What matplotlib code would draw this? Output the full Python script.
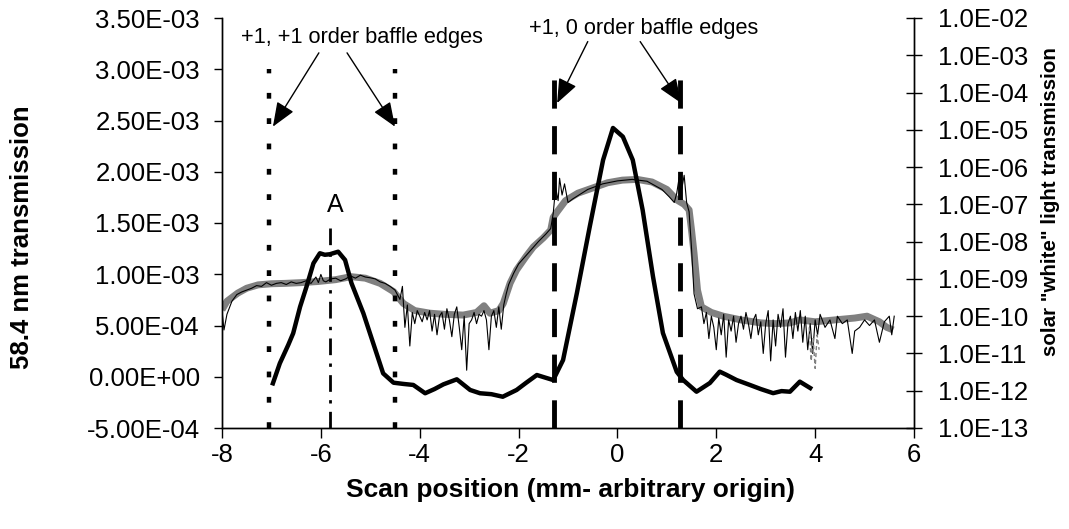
import matplotlib
matplotlib.use("Agg")
from matplotlib import pyplot as plt
from matplotlib.ticker import FixedLocator, FuncFormatter, NullLocator
import numpy as np

plt.rcParams['font.family'] = ['Liberation Sans', 'DejaVu Sans']
plt.rcParams['axes.unicode_minus'] = False

# 58.4 nm transmission (left axis), scan position in mm
euv_x = [-6.97, -6.83, -6.66, -6.56, -6.42, -6.29, -6.15, -6.02, -5.92, -5.82,
         -5.65, -5.51, -5.38, -5.14, -4.94, -4.74, -4.53, -4.33, -4.13, -3.89,
         -3.70, -3.52, -3.25, -2.98, -2.78, -2.55, -2.32, -2.04, -1.85, -1.63,
         -1.45, -1.30, -1.10, -0.82, -0.56, -0.29, -0.09, 0.11, 0.31, 0.51,
         0.72, 0.92, 1.20, 1.33, 1.60, 1.87, 2.07, 2.20, 2.41, 2.68,
         2.90, 3.15, 3.32, 3.49, 3.69, 3.90]
euv_t = [-0.064, 0.131, 0.310, 0.424, 0.683, 0.879, 1.107, 1.205, 1.190, 1.195,
         1.220, 1.139, 0.912, 0.619, 0.326, 0.033, -0.058, -0.070, -0.080, -0.161,
         -0.120, -0.074, -0.025, -0.129, -0.161, -0.170, -0.195, -0.129, -0.060, 0.017,
         -0.010, -0.032, 0.163, 0.817, 1.464, 2.115, 2.427, 2.342, 2.115, 1.627,
         0.976, 0.427, 0.048, -0.032, -0.146, -0.061, 0.050, 0.020, -0.032, -0.080,
         -0.120, -0.160, -0.140, -0.146, -0.048, -0.110]
euv_t = [v * 1e-3 for v in euv_t]

# solar white light, smoothed (grey, right axis), log10 values
wl_x = [-8.0, -7.9, -7.68, -7.5, -7.27, -7.0, -6.73, -6.4, -6.06, -5.7,
        -5.39, -5.1, -4.8, -4.53, -4.33, -4.1, -3.79, -3.5, -3.12, -2.85,
        -2.7, -2.58, -2.4, -2.31, -2.17, -2.04, -1.85, -1.7, -1.5, -1.35,
        -1.3, -1.22, -1.05, -0.8, -0.5, -0.2, 0.1, 0.4, 0.7, 1.0,
        1.2, 1.35, 1.45, 1.5, 1.55, 1.62, 1.7, 1.9, 2.14, 2.5,
        2.9, 3.2, 3.49, 3.69, 4.0, 4.4, 4.8, 5.05, 5.3, 5.45, 5.58]
wl_log = [-9.83, -9.6, -9.38, -9.25, -9.16, -9.13, -9.12, -9.1, -9.07, -9.02,
          -8.94, -8.98, -9.12, -9.34, -9.66, -9.85, -9.92, -9.95, -9.97, -9.9,
          -9.72, -9.92, -9.85, -9.66, -9.11, -8.76, -8.4, -8.14, -7.9, -7.69,
          -7.35, -7.2, -6.9, -6.7, -6.56, -6.42, -6.35, -6.33, -6.4, -6.6,
          -6.88, -7.0, -7.15, -7.7, -8.31, -9.3, -9.75, -9.9, -10.0, -10.1,
          -10.18, -10.2, -10.18, -10.1, -10.15, -10.1, -10.05, -10.0, -10.15, -10.3, -10.37]

# solar white light, raw scan (thin black, right axis), log10 values
raw_x = [-8.0, -7.96, -7.9, -7.8, -7.7, -7.6, -7.5, -7.4, -7.3, -7.2,
         -7.1, -7.0, -6.9, -6.8, -6.7, -6.6, -6.5, -6.4, -6.3, -6.2,
         -6.1, -6.05, -6.0, -5.95, -5.9, -5.8, -5.7, -5.6, -5.5, -5.4,
         -5.3, -5.2, -5.1, -5.0, -4.9, -4.8, -4.7, -4.6, -4.5, -4.4,
         -4.35, -4.3, -4.25, -4.2, -4.15, -4.1, -4.05, -4.0, -3.95, -3.9,
         -3.85, -3.8, -3.75, -3.7, -3.65, -3.6, -3.55, -3.5, -3.45, -3.4,
         -3.35, -3.3, -3.25, -3.2, -3.15, -3.1, -3.05, -3.0, -2.95, -2.9,
         -2.85, -2.8, -2.75, -2.7, -2.65, -2.6, -2.55, -2.5, -2.45, -2.4,
         -2.35, -2.3, -2.25, -2.2, -2.1, -2.0, -1.8, -1.6, -1.45, -1.35,
         -1.3, -1.25, -1.2, -1.17, -1.12, -1.07, -1.0, -0.9, -0.6, -0.3,
         0.0, 0.3, 0.6, 0.9, 1.05, 1.15, 1.2, 1.25, 1.3, 1.35,
         1.4, 1.45, 1.5, 1.55, 1.62, 1.7, 1.75, 1.8, 1.85, 1.9,
         1.95, 2.0, 2.05, 2.1, 2.15, 2.2, 2.25, 2.3, 2.35, 2.4,
         2.45, 2.5, 2.55, 2.6, 2.65, 2.7, 2.75, 2.8, 2.85, 2.9,
         2.95, 3.0, 3.05, 3.1, 3.15, 3.2, 3.25, 3.3, 3.35, 3.4,
         3.45, 3.5, 3.55, 3.6, 3.65, 3.7, 3.75, 3.8, 3.85, 3.9,
         3.95, 4.0, 4.05, 4.1, 4.2, 4.3, 4.4, 4.45, 4.55, 4.65,
         4.75, 4.8, 4.9, 5.0, 5.1, 5.2, 5.3, 5.4, 5.5, 5.55, 5.6]
raw_log = [-9.85, -10.37, -9.95, -9.6, -9.42, -9.35, -9.3, -9.25, -9.18, -9.2,
           -9.1, -9.17, -9.12, -9.1, -9.15, -9.08, -9.12, -9.1, -9.05, -9.12,
           -8.95, -9.1, -8.88, -9.05, -9.08, -9.0, -8.98, -9.05, -9.0, -8.92,
           -8.98, -8.9, -8.95, -8.97, -9.0, -9.08, -9.12, -9.2, -9.3, -9.55,
           -9.2, -10.3, -9.7, -10.8, -9.9, -10.2, -9.85, -10.0, -10.15, -9.9,
           -10.1, -9.85, -10.4, -9.95, -10.5, -10.0, -9.9, -10.35, -9.8, -10.1,
           -10.55, -9.95, -9.75, -10.3, -10.9, -10.0, -11.45, -10.2, -10.1, -9.9,
           -10.2, -9.95, -10.0, -9.85, -10.1, -10.9, -10.0, -9.85, -10.3, -9.75,
           -10.35, -9.7, -9.4, -9.15, -8.85, -8.6, -8.3, -8.0, -7.8, -7.65,
           -7.25, -6.55, -6.9, -6.3, -6.75, -6.45, -6.95, -6.85, -6.6, -6.45,
           -6.37, -6.33, -6.38, -6.6, -6.8, -6.95, -6.7, -6.27, -6.6, -6.22,
           -6.95, -7.2, -8.2, -9.4, -9.8, -9.75, -10.2, -9.9, -10.6, -10.0,
           -10.3, -10.9, -10.05, -10.5, -9.95, -11.1, -10.1, -10.4, -10.0, -10.7,
           -10.2, -10.0, -10.35, -9.9, -10.2, -10.6, -10.1, -9.95, -10.5, -10.15,
           -11.0, -10.2, -9.85, -11.2, -10.1, -10.8, -9.95, -10.3, -9.8, -11.1,
           -10.2, -10.0, -10.6, -9.9, -10.4, -9.85, -10.7, -10.0, -10.9, -10.2,
           -11.0, -10.1, -10.5, -9.95, -10.3, -10.1, -10.6, -10.0, -10.2, -10.1,
           -11.0, -10.4, -10.3, -10.1, -10.25, -10.1, -10.7, -10.15, -10.0, -10.5, -10.0]

# short grey dashed trace near 4 mm
gap_x = [3.88, 3.92, 3.96, 4.0, 4.04, 4.08]
gap_log = [-10.3, -11.2, -10.6, -11.4, -10.5, -10.9]

# baffle edges and peak marker (mm)
edges_11 = [-7.04, -4.51]
edges_10 = [-1.28, 1.27]
peak_a = -5.815

left_ticks = [-5e-4, 0, 5e-4, 1e-3, 1.5e-3, 2e-3, 2.5e-3, 3e-3, 3.5e-3]
right_ticks = [1e-13, 1e-12, 1e-11, 1e-10, 1e-9, 1e-8, 1e-7, 1e-6, 1e-5, 1e-4, 1e-3, 1e-2]
x_ticks = [-8, -6, -4, -2, 0, 2, 4, 6]

fig = plt.figure(figsize=(10.69, 5.29), dpi=100)
ax = fig.add_axes([222 / 1069, 1 - 428 / 529, (914 - 222) / 1069, 410 / 529])
ax2 = ax.twinx()
ax.set_zorder(ax2.get_zorder() + 1)
ax.patch.set_visible(False)

# right axis: white light
ax2.set_yscale('log')
ax2.plot(wl_x, [10 ** v for v in wl_log], color='#808080', lw=5, solid_capstyle='butt')
ax2.plot(raw_x, [10 ** v for v in raw_log], color='black', lw=0.8)
ax2.plot(gap_x, [10 ** v for v in gap_log], color='#808080', lw=1.0, ls=(0, (3, 2)))
ax2.set_ylim(1e-13, 1e-2)
ax2.yaxis.set_major_locator(FixedLocator(right_ticks))
ax2.yaxis.set_minor_locator(NullLocator())
ax2.yaxis.set_major_formatter(FuncFormatter(lambda v, p: '{:.1E}'.format(v)))
ax2.tick_params(axis='y', direction='inout', length=12, width=1, labelsize=18.5, pad=11)

# left axis: 58.4 nm
ax.plot(euv_x, euv_t, color='black', lw=3.2, solid_joinstyle='round')
for xe in edges_11:
    ax.plot([xe, xe], [-5e-4, 3.0e-3], color='black', lw=3.2, ls=(0, (1.3, 4.4)))
for xe in edges_10:
    ax.plot([xe, xe], [-5e-4, 2.97e-3], color='black', lw=3.5, ls=(0, (5.8, 3.6)))
ax.plot([peak_a, peak_a], [-5e-4, 1.51e-3], color='black', lw=2, ls=(0, (6, 3, 1.2, 3)))
ax.text(-5.71, 1.68e-3, 'A', ha='center', va='center', fontsize=18)

ax.set_xlim(-8, 6)
ax.set_ylim(-5e-4, 3.5e-3)
ax.set_xticks(x_ticks)
ax.set_yticks(left_ticks)
ax.yaxis.set_major_formatter(FuncFormatter(lambda v, p: '{:.2E}'.format(v)))
ax.tick_params(axis='y', direction='out', length=6, width=1, labelsize=18.5, pad=10)
ax.tick_params(axis='x', direction='out', length=7, width=1, labelsize=18.5, pad=4)

for a in (ax, ax2):
    a.spines['top'].set_visible(False)
    for s in ('left', 'right', 'bottom'):
        a.spines[s].set_linewidth(1)

# annotations
ax.text(-5.17, 3.305e-3, '+1, +1 order baffle edges', ha='center', va='center', fontsize=15.7)
ax.text(0.52, 3.40e-3, '+1, 0 order baffle edges', ha='center', va='center', fontsize=15.7)
arrow = dict(arrowstyle='-|>,head_length=1.0,head_width=0.4', color='black', lw=1,
             shrinkA=0, shrinkB=0, mutation_scale=15)
ax.annotate('', xy=(-6.97, 2.44e-3), xytext=(-6.04, 3.16e-3), arrowprops=arrow)
ax.annotate('', xy=(-4.50, 2.44e-3), xytext=(-5.47, 3.16e-3), arrowprops=arrow)
ax.annotate('', xy=(-1.22, 2.67e-3), xytext=(-0.60, 3.27e-3), arrowprops=arrow)
ax.annotate('', xy=(1.29, 2.67e-3), xytext=(0.46, 3.27e-3), arrowprops=arrow)

fig.text(22 / 1069, 1 - 237 / 529, '58.4 nm transmission', rotation=90, ha='center', va='center',
         fontsize=18.5, fontweight='bold')
fig.text(1050 / 1069, 1 - 202 / 529, 'solar "white" light transmission', rotation=90, ha='center',
         va='center', fontsize=14.8, fontweight='bold')
fig.text(570 / 1069, 1 - 490 / 529, 'Scan position (mm- arbitrary origin)', ha='center', va='center',
         fontsize=19, fontweight='bold')

fig.savefig('out.png', dpi=100)
